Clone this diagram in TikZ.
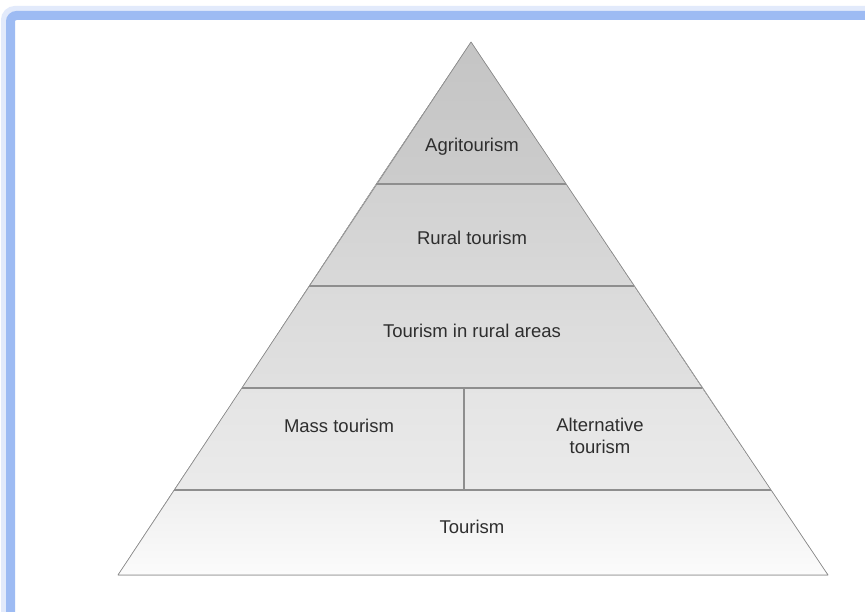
\documentclass[tikz,border=0pt]{standalone}
\usepackage{fontspec}
\setmainfont{Liberation Sans}
\usepackage{xcolor}
\usepackage{tikz}
\definecolor{frameblue}{HTML}{9DBBF3}
\definecolor{frameglow}{HTML}{E2EAFB}
\definecolor{edgegray}{HTML}{8E8E8E}
\definecolor{inkgray}{HTML}{2E2E2E}
\tikzset{
  tier/.style 2 args={draw=none,top color=#1,bottom color=#2},
  outline/.style ={draw=edgegray,line width=0.7pt,line join=round},
  divider/.style ={draw=edgegray,line width=1.1pt},
  tierlabel/.style={font=\fontsize{18.5}{22}\selectfont,text=inkgray,
                    align=center,inner sep=0pt}
}

\begin{document}
\begin{tikzpicture}[x=1pt,y=-1pt]
  \useasboundingbox[fill=white] (0,0) rectangle (865,612);
  % frame round the figure
  \draw[frameglow,line width=12pt,rounded corners=8pt] (7,640) -- (7,12) -- (890,12);
  \draw[frameblue,line width=9pt,rounded corners=6pt] (10.5,640) -- (10.5,15.5) -- (890,15.5);
  % corners of the tiers
  \coordinate (apex) at (471,42);
  \coordinate (l1) at (376,184); \coordinate (r1) at (566,184);
  \coordinate (l2) at (309,286); \coordinate (r2) at (634,286);
  \coordinate (l3) at (242,388); \coordinate (r3) at (702,388);
  \coordinate (l4) at (174,490); \coordinate (r4) at (771,490);
  \coordinate (l5) at (118,575); \coordinate (r5) at (828,575);
  \coordinate (midtop) at (464,388); \coordinate (midbot) at (464,490);
  % tiers
  \fill[tier={black!23}{black!20}] (apex) -- (r1) -- (l1) -- cycle;
  \fill[tier={black!18}{black!15}] (l1) -- (r1) -- (r2) -- (l2) -- cycle;
  \fill[tier={black!14.5}{black!12}] (l2) -- (r2) -- (r3) -- (l3) -- cycle;
  \fill[tier={black!10.5}{black!8}] (l3) -- (r3) -- (r4) -- (l4) -- cycle;
  \fill[tier={black!6.5}{black!1.5}] (l4) -- (r4) -- (r5) -- (l5) -- cycle;
  \draw[divider] (l1) -- (r1);
  \draw[divider] (l2) -- (r2);
  \draw[divider] (l3) -- (r3);
  \draw[divider] (l4) -- (r4);
  \draw[divider] (midtop) -- (midbot);
  \draw[outline] (apex) -- (r5) -- (l5) -- cycle;
  % labels
  \node[tierlabel] (agri) at (472,147) {Agritourism};
  \node[tierlabel] (rural) at (472,238) {Rural tourism};
  \node[tierlabel] (inrural) at (472,331) {Tourism in rural areas};
  \node[tierlabel] (mass) at (339,426) {Mass tourism};
  \node[tierlabel] (alt) at (600,436) {Alternative\\tourism};
  \node[tierlabel] (tourism) at (472,527) {Tourism};
\end{tikzpicture}
\end{document}
